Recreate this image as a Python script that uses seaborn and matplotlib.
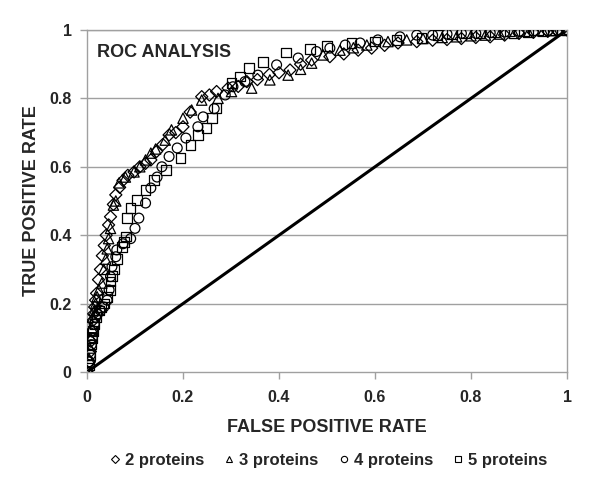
import matplotlib
matplotlib.use("Agg")
import matplotlib.pyplot as plt
from matplotlib.lines import Line2D
import seaborn as sns
import pandas as pd

# ---- data ----
x2 = [0.0, 0.005, 0.007, 0.008, 0.01, 0.012, 0.014, 0.016, 0.018, 0.02, 0.024, 0.028, 0.032, 0.036, 0.04,
      0.045, 0.049, 0.055, 0.06, 0.068, 0.075, 0.085, 0.098, 0.11, 0.122, 0.133, 0.145, 0.158, 0.171, 0.185,
      0.2, 0.215, 0.239, 0.255, 0.27, 0.294, 0.315, 0.333, 0.355, 0.38, 0.4, 0.423, 0.445, 0.468, 0.506,
      0.535, 0.565, 0.593, 0.62, 0.648, 0.687, 0.72, 0.75, 0.78, 0.81, 0.84, 0.87, 0.9, 0.93, 0.96, 0.98, 1.0]
y2 = [0.0, 0.03, 0.06, 0.09, 0.12, 0.15, 0.17, 0.19, 0.21, 0.23, 0.27, 0.3, 0.34, 0.37, 0.4,
      0.43, 0.454, 0.49, 0.518, 0.54, 0.56, 0.575, 0.585, 0.6, 0.61, 0.62, 0.645, 0.665, 0.693, 0.7,
      0.717, 0.76, 0.805, 0.81, 0.82, 0.83, 0.835, 0.849, 0.855, 0.87, 0.875, 0.883, 0.9, 0.912, 0.922,
      0.93, 0.941, 0.947, 0.955, 0.962, 0.966, 0.97, 0.972, 0.975, 0.978, 0.98, 0.985, 0.99, 0.993, 0.996, 0.998, 1.0]

x3 = [0.0, 0.004, 0.006, 0.008, 0.01, 0.012, 0.015, 0.018, 0.021, 0.025, 0.031, 0.035, 0.039, 0.042, 0.045,
      0.049, 0.055, 0.06, 0.067, 0.08, 0.098, 0.11, 0.122, 0.133, 0.143, 0.163, 0.176, 0.2, 0.218, 0.239,
      0.273, 0.301, 0.343, 0.381, 0.419, 0.445, 0.468, 0.492, 0.527, 0.555, 0.583, 0.627, 0.666, 0.7, 0.74,
      0.77, 0.8, 0.83, 0.86, 0.89, 0.92, 0.95, 0.97, 1.0]
y3 = [0.0, 0.04, 0.07, 0.1, 0.13, 0.16, 0.18, 0.2, 0.22, 0.24, 0.26, 0.3, 0.33, 0.36, 0.39,
      0.42, 0.488, 0.5, 0.553, 0.57, 0.585, 0.6, 0.62, 0.64, 0.652, 0.678, 0.708, 0.742, 0.766, 0.795,
      0.8, 0.82, 0.83, 0.854, 0.868, 0.885, 0.903, 0.927, 0.941, 0.948, 0.956, 0.966, 0.971, 0.975, 0.978,
      0.98, 0.983, 0.985, 0.988, 0.99, 0.993, 0.996, 0.998, 1.0]

x4 = [0.0, 0.005, 0.007, 0.009, 0.011, 0.013, 0.015, 0.018, 0.022, 0.028, 0.035, 0.042, 0.046, 0.049, 0.052,
      0.06, 0.062, 0.075, 0.091, 0.1, 0.108, 0.122, 0.133, 0.146, 0.156, 0.171, 0.188, 0.206, 0.231, 0.242,
      0.265, 0.288, 0.304, 0.329, 0.356, 0.395, 0.44, 0.478, 0.506, 0.538, 0.569, 0.606, 0.652, 0.687, 0.72,
      0.75, 0.78, 0.81, 0.84, 0.87, 0.9, 0.93, 0.96, 0.98, 1.0]
y4 = [0.0, 0.03, 0.05, 0.08, 0.1, 0.12, 0.14, 0.16, 0.17, 0.18, 0.19, 0.21, 0.24, 0.279, 0.308,
      0.337, 0.357, 0.375, 0.39, 0.42, 0.45, 0.494, 0.538, 0.57, 0.6, 0.63, 0.655, 0.684, 0.717, 0.746,
      0.77, 0.81, 0.834, 0.849, 0.868, 0.898, 0.918, 0.937, 0.947, 0.956, 0.962, 0.971, 0.98, 0.985, 0.985,
      0.988, 0.99, 0.99, 0.992, 0.994, 0.996, 0.997, 0.998, 0.999, 1.0]

x5 = [0.0, 0.005, 0.007, 0.009, 0.011, 0.013, 0.016, 0.02, 0.025, 0.03, 0.036, 0.042, 0.049, 0.049, 0.052,
      0.056, 0.062, 0.073, 0.077, 0.081, 0.083, 0.091, 0.104, 0.122, 0.14, 0.164, 0.195, 0.216, 0.231, 0.249,
      0.26, 0.27, 0.301, 0.319, 0.338, 0.367, 0.415, 0.465, 0.5, 0.551, 0.6, 0.645, 0.697, 0.73, 0.76,
      0.79, 0.82, 0.85, 0.88, 0.91, 0.94, 0.97, 0.99, 1.0]
y5 = [0.0, 0.02, 0.05, 0.08, 0.1, 0.12, 0.14, 0.16, 0.18, 0.19, 0.2, 0.22, 0.24, 0.265, 0.28,
      0.3, 0.33, 0.366, 0.38, 0.396, 0.45, 0.48, 0.503, 0.532, 0.561, 0.59, 0.625, 0.664, 0.693, 0.713,
      0.743, 0.772, 0.845, 0.864, 0.889, 0.907, 0.934, 0.944, 0.953, 0.962, 0.966, 0.971, 0.976, 0.985, 0.988,
      0.99, 0.992, 0.994, 0.996, 0.997, 0.998, 0.999, 1.0, 1.0]

series_labels = ["2 proteins", "3 proteins", "4 proteins", "5 proteins"]
series_markers = ["D", "^", "o", "s"]
ticks = [0, 0.2, 0.4, 0.6, 0.8, 1]
tick_labels = ["0", "0.2", "0.4", "0.6", "0.8", "1"]
diag_x = [0, 1]
diag_y = [0, 1]

sns.set_style("white")
plt.rcParams["font.family"] = ["Liberation Sans", "DejaVu Sans"]
plt.rcParams["font.weight"] = "bold"

fig = plt.figure(figsize=(6.0, 5.03), dpi=100)
ax = fig.add_axes([0.145, 0.2604, 0.8, 0.68])

for yv in ticks[1:]:
    ax.axhline(yv, color="#a0a0a0", lw=1.0, zorder=0)

ax.plot(diag_x, diag_y, color="black", lw=2.2, zorder=1)

data_sets = [(x2, y2), (x3, y3), (x4, y4), (x5, y5)]
sizes = [38, 55, 50, 48]
for (xs, ys), lab, mk, sz in zip(data_sets, series_labels, series_markers, sizes):
    df = pd.DataFrame({"fpr": xs, "tpr": ys})
    sns.scatterplot(data=df, x="fpr", y="tpr", marker=mk, s=sz, facecolor="none",
                    edgecolor="black", linewidth=0.9, ax=ax, zorder=3, legend=False)

ax.set_xlim(0, 1)
ax.set_ylim(0, 1)
ax.set_xticks(ticks)
ax.set_xticklabels(tick_labels)
ax.set_yticks(ticks)
ax.set_yticklabels(tick_labels)
ax.tick_params(axis="both", labelsize=11.5, length=5, color="#a0a0a0", width=1, pad=8)
ax.tick_params(axis="x", bottom=True, direction="out")
ax.tick_params(axis="y", left=True, direction="out", pad=6)
for lab in ax.get_xticklabels() + ax.get_yticklabels():
    lab.set_fontweight("bold")
for sp in ax.spines.values():
    sp.set_color("#a0a0a0")
    sp.set_linewidth(1.0)

ax.set_xlabel("FALSE POSITIVE RATE", fontsize=13, fontweight="bold", labelpad=10)
ax.set_ylabel("TRUE POSITIVE RATE", fontsize=13, fontweight="bold", labelpad=7)
ax.text(0.02, 0.935, "ROC ANALYSIS", transform=ax.transAxes, fontsize=13, fontweight="bold",
        va="center", ha="left")

handles = [Line2D([], [], marker=m, linestyle="none", markerfacecolor="none",
                  markeredgecolor="black", markersize=4.5, markeredgewidth=0.8) for m in series_markers]
fig.legend(handles, series_labels, loc="center", bbox_to_anchor=(0.545, 0.085), ncol=4,
           frameon=False, prop={"size": 12, "weight": "bold"}, handletextpad=0.1,
           columnspacing=1.0, handlelength=1.0)

fig.savefig("out.png", dpi=100)
